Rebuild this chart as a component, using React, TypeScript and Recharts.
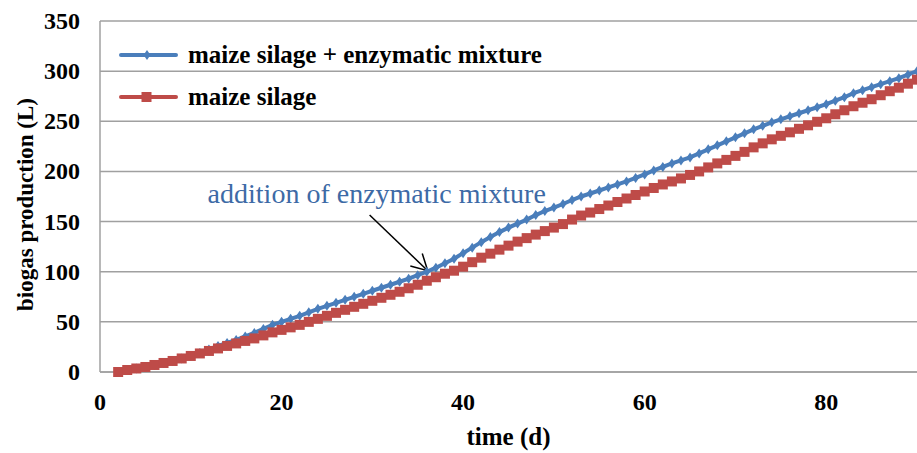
import React from 'react'
import { LineChart, Line, XAxis, YAxis, CartesianGrid, Legend, ReferenceLine } from 'recharts'

// digestion time in days
const days = [
  2, 3, 4, 5, 6, 7, 8, 9, 10, 11, 12, 13, 14, 15, 16, 17, 18, 19, 20,
  21, 22, 23, 24, 25, 26, 27, 28, 29, 30, 31, 32, 33, 34, 35, 36, 37, 38, 39, 40,
  41, 42, 43, 44, 45, 46, 47, 48, 49, 50, 51, 52, 53, 54, 55, 56, 57, 58, 59, 60,
  61, 62, 63, 64, 65, 66, 67, 68, 69, 70, 71, 72, 73, 74, 75, 76, 77, 78, 79, 80,
  81, 82, 83, 84, 85, 86, 87, 88, 89, 90,
]

// cumulative biogas (L), maize silage + enzymatic mixture
const enzymeBiogas = [
  0, 2, 3.5, 5, 7, 9, 11, 13.5, 16, 19, 22.5, 26, 29, 32, 35.5, 39, 43, 47, 50,
  53, 56, 59.5, 63, 66, 69, 72, 75, 78, 81, 84, 87, 90, 93, 96.5, 100, 104, 108.5, 113, 118.5,
  124, 129.5, 134.5, 139.5, 144, 148, 152, 156.5, 160.5, 164, 167.5, 171.5, 175, 178, 181, 184, 187, 190, 193.5, 197,
  201, 204.5, 208, 211, 214, 218, 222, 226, 230, 234, 238, 242, 245.5, 249, 252, 255, 258, 261, 264, 267,
  270.5, 274, 278, 281, 284, 287, 290, 293, 296.5, 300,
]

// cumulative biogas (L), maize silage only
const silageBiogas = [
  0, 2, 3.5, 5, 7, 9, 11, 13.5, 16, 18.5, 21, 23.5, 26, 28.5, 31, 33.5, 36.5, 39.5, 42,
  44.5, 47, 50, 53, 56, 59, 62, 65, 68, 71, 74, 77, 80, 83.5, 87, 91, 94.5, 98, 101, 105,
  109.5, 114, 118, 122, 126, 130, 133.5, 137, 140.5, 144, 147.5, 152, 156, 159, 162.5, 166, 169.5, 173, 176.5, 180,
  183.5, 187, 190, 193, 196.5, 200, 204, 208, 211.5, 215.5, 219.5, 224, 228, 232, 235.5, 239, 242.5, 246, 249.5, 253,
  257, 261, 265, 268.5, 272, 276, 280, 283.5, 287.5, 291.5,
]

const xTicks = [0, 20, 40, 60, 80]
const yTicks = [0, 50, 100, 150, 200, 250, 300, 350]

// arrow pointing at the day the enzymes were added
const arrowFrom = { x: 29.7, y: 156.5 }
const arrowTo = { x: 36.1, y: 101 }

const BLUE = '#4a7ebb'
const RED = '#be4b48'
const GRID = '#a0a0a0'
const FONT = '"Liberation Serif", "Times New Roman", serif'

const data = days.map((day, i) => ({
  day,
  enzyme: enzymeBiogas[i],
  silage: silageBiogas[i],
}))

const Diamond = (props: any) => {
  const { cx, cy } = props
  if (cx == null || cy == null) return null
  return <path d={`M${cx},${cy - 5}L${cx + 3.5},${cy}L${cx},${cy + 5}L${cx - 3.5},${cy}Z`} fill={BLUE} />
}

const Square = (props: any) => {
  const { cx, cy } = props
  if (cx == null || cy == null) return null
  return <rect x={cx - 5} y={cy - 5} width={10} height={10} fill={RED} />
}

const XTick = ({ x, y, payload }: any) => (
  <text x={x} y={y} textAnchor="middle" fontFamily={FONT} fontWeight="bold" fontSize={24} fill="#000">
    {payload.value}
  </text>
)

const YTick = ({ x, y, payload }: any) => (
  <text x={x} y={y + 8} textAnchor="end" fontFamily={FONT} fontWeight="bold" fontSize={24} fill="#000">
    {payload.value}
  </text>
)

const ArrowNote = (props: any) => {
  const { x1, y1, x2, y2 } = props
  const ang = Math.atan2(y2 - y1, x2 - x1)
  const len = 18
  const spread = 0.5
  const a = [x2 - len * Math.cos(ang - spread), y2 - len * Math.sin(ang - spread)]
  const b = [x2 - len * Math.cos(ang + spread), y2 - len * Math.sin(ang + spread)]
  return (
    <g>
      <line x1={x1} y1={y1} x2={x2} y2={y2} stroke="#000" strokeWidth={1.5} />
      <polyline points={`${a[0]},${a[1]} ${x2},${y2} ${b[0]},${b[1]}`} fill="none" stroke="#000" strokeWidth={1.5} />
      <text x={x1 - 162} y={y1 - 12} fontFamily={FONT} fontSize={28} fill="#3d6aa6">
        addition of enzymatic mixture
      </text>
    </g>
  )
}

const renderLegend = ({ payload }: any) => (
  <div style={{ fontFamily: FONT, fontWeight: 'bold', fontSize: 25, color: '#000' }}>
    {(payload || []).map((entry: any) => (
      <div key={entry.value} style={{ display: 'flex', alignItems: 'center', height: 42 }}>
        <svg width={69} height={20} style={{ flex: 'none' }}>
          <line x1={2} y1={10} x2={57} y2={10} stroke={entry.color} strokeWidth={4} strokeLinecap="round" />
          {entry.dataKey === 'enzyme' ? (
            <path d="M28,5L31.5,10L28,15L24.5,10Z" fill={entry.color} />
          ) : (
            <rect x={22.5} y={5} width={10} height={10} fill={entry.color} />
          )}
        </svg>
        <span style={{ whiteSpace: 'nowrap' }}>{entry.value}</span>
      </div>
    ))}
  </div>
)

export default function App() {
  return (
    <div style={{ position: 'absolute', left: 0, top: 0, width: 917, height: 453, background: '#fff' }}>
      <LineChart width={917} height={453} data={data} margin={{ top: 21, right: 0, bottom: 0, left: 0 }}>
        <CartesianGrid vertical={false} stroke={GRID} strokeWidth={1.5} />
        <XAxis
          dataKey="day"
          type="number"
          domain={[0, 90]}
          ticks={xTicks}
          height={81}
          axisLine={{ stroke: GRID, strokeWidth: 1.5 }}
          tickLine={false}
          tickSize={0}
          tickMargin={38}
          tick={<XTick />}
          label={({ viewBox }: any) => (
            <text
              x={viewBox.x + viewBox.width / 2}
              y={viewBox.y + 73}
              textAnchor="middle"
              fontFamily={FONT}
              fontWeight="bold"
              fontSize={25}
              fill="#000"
            >
              time (d)
            </text>
          )}
        />
        <YAxis
          type="number"
          domain={[0, 350]}
          ticks={yTicks}
          width={100}
          axisLine={{ stroke: GRID, strokeWidth: 1.5 }}
          tickLine={false}
          tickSize={0}
          tickMargin={20}
          tick={<YTick />}
          label={({ viewBox }: any) => {
            const cx = viewBox.x + 33
            const cy = viewBox.y + viewBox.height / 2 + 8
            return (
              <text
                x={cx}
                y={cy}
                transform={`rotate(-90 ${cx} ${cy})`}
                textAnchor="middle"
                fontFamily={FONT}
                fontWeight="bold"
                fontSize={23}
                fill="#000"
              >
                biogas production (L)
              </text>
            )
          }}
        />
        <Legend
          layout="vertical"
          align="center"
          verticalAlign="middle"
          itemSorter="dataKey"
          wrapperStyle={{ left: 119, top: 34, width: 'auto' }}
          content={renderLegend}
        />
        <Line
          dataKey="enzyme"
          name="maize silage + enzymatic mixture"
          stroke={BLUE}
          strokeWidth={4}
          dot={(p: any) => <Diamond key={`d-${p.index}`} {...p} />}
          activeDot={false}
          isAnimationActive={false}
        />
        <Line
          dataKey="silage"
          name="maize silage"
          stroke={RED}
          strokeWidth={4}
          dot={(p: any) => <Square key={`s-${p.index}`} {...p} />}
          activeDot={false}
          isAnimationActive={false}
        />
        <ReferenceLine segment={[arrowFrom, arrowTo]} shape={ArrowNote} ifOverflow="visible" />
      </LineChart>
    </div>
  )
}
